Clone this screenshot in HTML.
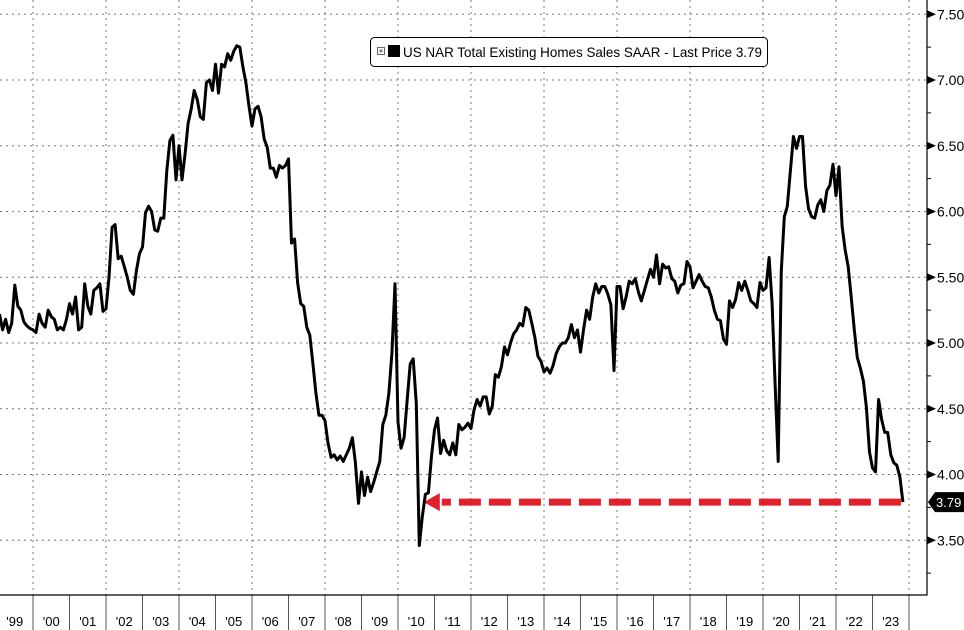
<!DOCTYPE html>
<html><head><meta charset="utf-8"><style>
html,body{margin:0;padding:0;background:#fff;}
svg{display:block;font-family:"Liberation Sans",Tahoma,sans-serif;}
</style></head><body>
<svg id="chart" width="964" height="630" viewBox="0 0 964 630" xmlns="http://www.w3.org/2000/svg">
<g id="grid"></g>
<g id="xaxis"></g>
<g id="yaxis"></g>
<g id="series"></g>
<g>
  <rect x="370.5" y="37.5" width="397" height="29" rx="4" fill="#fff" stroke="#000" stroke-width="1"/>
  <rect x="377.5" y="47.5" width="7" height="7" fill="#fff" stroke="#666" stroke-width="1"/>
  <line x1="379" y1="51" x2="383" y2="51" stroke="#666"/>
  <line x1="381" y1="49" x2="381" y2="53" stroke="#666"/>
  <rect x="388" y="45" width="12" height="12" fill="#000"/>
  <text x="403" y="57" font-size="14" textLength="359" lengthAdjust="spacingAndGlyphs" fill="#000">US NAR Total Existing Homes Sales SAAR - Last Price 3.79</text>
</g>
</svg>
<script>
const years = [1999,2000,2001,2002,2003,2004,2005,2006,2007,2008,2009,2010,2011,2012,2013,2014,2015,2016,2017,2018,2019,2020,2021,2022,2023];
const v1999 = [5.22,5.10,5.18,5.08,5.15,5.44,5.28,5.25,5.16,5.13,5.11,5.10];
const v2000 = [5.08,5.22,5.15,5.12,5.25,5.20,5.18,5.10,5.12,5.10,5.18,5.30];
const v2001 = [5.22,5.35,5.10,5.12,5.45,5.28,5.22,5.40,5.42,5.45,5.24,5.26];
const v2002 = [5.50,5.88,5.90,5.64,5.66,5.58,5.50,5.40,5.37,5.55,5.68,5.73];
const v2003 = [5.99,6.04,6.00,5.86,5.85,5.95,5.95,6.31,6.54,6.58,6.24,6.50];
const v2004 = [6.24,6.44,6.67,6.78,6.92,6.85,6.72,6.70,6.98,7.00,6.92,7.12];
const v2005 = [6.90,7.12,7.10,7.20,7.15,7.22,7.26,7.25,7.10,6.98,6.80,6.65];
const v2006 = [6.78,6.80,6.72,6.55,6.49,6.33,6.33,6.26,6.35,6.33,6.35,6.40];
const v2007 = [5.76,5.79,5.46,5.30,5.28,5.12,5.06,4.85,4.62,4.45,4.45,4.41];
const v2008 = [4.24,4.13,4.15,4.11,4.14,4.10,4.15,4.20,4.28,4.09,3.78,4.02];
const v2009 = [3.84,3.98,3.87,3.94,4.02,4.10,4.38,4.45,4.62,4.92,5.45,4.40];
const v2010 = [4.20,4.28,4.56,4.84,4.88,4.54,3.46,3.68,3.85,3.86,4.14,4.34];
const v2011 = [4.43,4.16,4.26,4.18,4.15,4.24,4.15,4.38,4.34,4.36,4.39,4.35];
const v2012 = [4.49,4.57,4.52,4.59,4.59,4.46,4.52,4.76,4.74,4.82,4.97,4.91];
const v2013 = [5.00,5.07,5.10,5.15,5.13,5.27,5.25,5.15,5.04,4.90,4.86,4.78];
const v2014 = [4.81,4.77,4.83,4.92,4.97,5.00,5.00,5.04,5.14,5.04,5.10,4.93];
const v2015 = [5.10,5.25,5.18,5.35,5.45,5.38,5.43,5.43,5.37,5.29,4.79,5.43];
const v2016 = [5.43,5.26,5.35,5.47,5.45,5.49,5.39,5.32,5.40,5.48,5.56,5.50];
const v2017 = [5.67,5.45,5.60,5.57,5.58,5.49,5.47,5.38,5.44,5.45,5.62,5.58];
const v2018 = [5.42,5.47,5.52,5.47,5.43,5.42,5.35,5.25,5.18,5.17,5.03,4.99];
const v2019 = [5.32,5.27,5.33,5.46,5.40,5.47,5.40,5.32,5.30,5.27,5.46,5.40];
const v2020 = [5.42,5.65,5.30,4.67,4.10,5.55,5.96,6.04,6.31,6.57,6.48,6.57];
const v2021 = [6.57,6.19,6.02,5.96,5.95,6.05,6.09,6.00,6.16,6.20,6.36,6.12];
const v2022 = [6.34,5.89,5.71,5.58,5.35,5.10,4.89,4.81,4.71,4.51,4.17,4.05];
const v2023 = [4.02,4.57,4.42,4.32,4.32,4.15,4.09,4.07,3.98,3.79];
const yTicks = [3.5,4.0,4.5,5.0,5.5,6.0,6.5,7.0,7.5];
const yTickLabels = ["3.50","4.00","4.50","5.00","5.50","6.00","6.50","7.00","7.50"];
const xLabels = ["'99","'00","'01","'02","'03","'04","'05","'06","'07","'08","'09","'10","'11","'12","'13","'14","'15","'16","'17","'18","'19","'20","'21","'22","'23"];
const lastValue = 3.79;
const arrowTarget = 3.79;

const NS = "http://www.w3.org/2000/svg";
const PLOT_R = 927, PLOT_B = 595;
function xScale(t){ return 33 + (t - 2000) * 36.5; }
function yScale(v){ return 343 - (v - 5) * 131.5; }
function mk(tag, attrs, parent){ const e = document.createElementNS(NS, tag); for (const k in attrs) e.setAttribute(k, attrs[k]); parent.appendChild(e); return e; }

const all = [v1999,v2000,v2001,v2002,v2003,v2004,v2005,v2006,v2007,v2008,v2009,v2010,v2011,v2012,v2013,v2014,v2015,v2016,v2017,v2018,v2019,v2020,v2021,v2022,v2023];
const grid = document.getElementById('grid');
const xaxis = document.getElementById('xaxis');
const yaxis = document.getElementById('yaxis');
const series = document.getElementById('series');

yTicks.forEach((v,i)=>{
  const y = yScale(v);
  const l = mk('line',{x1:0,x2:PLOT_R,y1:y,y2:y,stroke:'#777','stroke-width':1,'stroke-dasharray':'2,4'},grid);
  
  
  const tk = mk('path',{d:`M${PLOT_R} ${y-4} L${PLOT_R+9} ${y} L${PLOT_R} ${y+4}Z`,fill:'#000'},yaxis);
  
  
  const t = mk('text',{x:PLOT_R+10,y:y+5,'font-size':14,fill:'#000'},yaxis);
  t.textContent = yTickLabels[i];
  
  
  const ym = yScale(v - 0.25);
  const m = mk('line',{x1:PLOT_R,x2:PLOT_R+4,y1:ym,y2:ym,stroke:'#000'},yaxis);
  
  
});
years.forEach((yr,i)=>{
  const xs = xScale(yr + 1);
  if ((yr + 1) % 2 === 0 && xs < PLOT_R) {
    const g = mk('line',{x1:xs,x2:xs,y1:0,y2:PLOT_B,stroke:'#777','stroke-width':1,'stroke-dasharray':'2,4'},grid);
    
    
  }
  if (xs < PLOT_R) {
    const s = mk('line',{x1:xs,x2:xs,y1:PLOT_B,y2:630,stroke:'#555','stroke-width':1},xaxis);
    
    
  }
  const t = mk('text',{x:xScale(yr + 0.5),y:626,'font-size':13,fill:'#000','text-anchor':'middle'},xaxis);
  t.textContent = xLabels[i];
  
  
});
const ax = mk('path',{d:`M${PLOT_R} 0 V${PLOT_B} H0`,fill:'none',stroke:'#000','stroke-width':1.2},yaxis);



let d = '';
let last = null;
all.forEach((arr,yi)=>{
  arr.forEach((v,m)=>{
    const x = xScale(years[yi] + (m + 1) / 12);
    const y = yScale(v);
    d += (d ? ' L' : 'M') + x.toFixed(1) + ' ' + y.toFixed(1);
    last = [x,y];
  });
});
const ay = yScale(arrowTarget);
const arrowTipX = xScale(2010 + 7.5/12) + 3;
const dash = mk('line',{x1:last[0]-2,x2:arrowTipX+18,y1:ay,y2:ay,stroke:'#e0202a','stroke-width':7,'stroke-dasharray':'22,8'},series);


const head = mk('path',{d:`M${arrowTipX} ${ay} L${arrowTipX+16} ${ay-9} L${arrowTipX+16} ${ay+9}Z`,fill:'#e0202a'},series);



const line = mk('path',{d:d,fill:'none',stroke:'#000','stroke-width':3,'stroke-linejoin':'round'},series);



const ly = yScale(lastValue);
const tag = mk('path',{d:`M${PLOT_R+1} ${ly} L${PLOT_R+8} ${ly-10} H964 V${ly+10} H${PLOT_R+8}Z`,fill:'#000'},yaxis);


const tt = mk('text',{x:PLOT_R+9,y:ly+5,'font-size':13,fill:'#fff'},yaxis);
tt.textContent = lastValue.toFixed(2);


</script>
</body></html>
